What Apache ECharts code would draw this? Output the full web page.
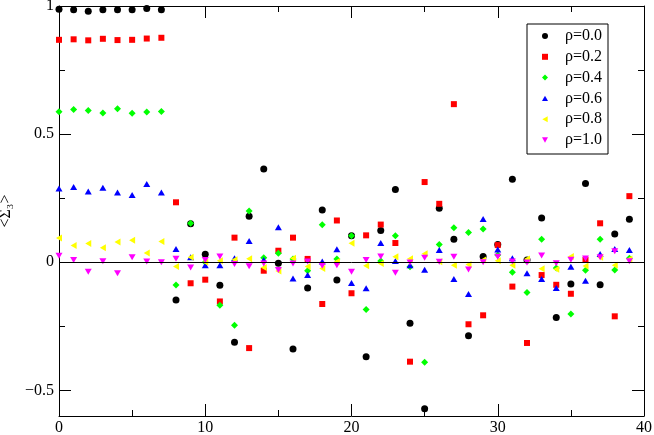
<!DOCTYPE html>
<html><head><meta charset="utf-8">
<script src="https://cdn.jsdelivr.net/npm/echarts@6/dist/echarts.min.js"></script>
<style>html,body{margin:0;padding:0;background:#fff}#c{width:654px;height:435px}</style>
</head><body><div id="c"></div><script>
const FONT = 'Liberation Serif';
const seriesNames = ['ρ=0.0','ρ=0.2','ρ=0.4','ρ=0.6','ρ=0.8','ρ=1.0'];
const rho00 = [0.987,0.985,0.98,0.985,0.985,0.985,0.99,0.985,-0.147,0.15,0.031,-0.09,-0.312,0.18,0.364,-0.004,-0.339,-0.1,0.204,-0.069,0.103,-0.369,0.124,0.284,-0.238,-0.572,0.211,0.09,-0.287,0.022,0.069,0.324,0.009,0.173,-0.216,-0.085,0.307,-0.088,0.11,0.168];
const rho02 = [0.868,0.87,0.866,0.872,0.867,0.868,0.873,0.876,0.234,-0.082,-0.068,-0.153,0.096,-0.335,-0.033,0.045,0.096,0.013,-0.163,0.163,-0.121,0.105,0.147,0.075,-0.388,0.313,0.228,0.617,-0.242,-0.207,0.067,-0.095,-0.315,-0.05,-0.088,-0.123,0.009,0.152,-0.211,0.258];
const rho04 = [0.587,0.596,0.592,0.582,0.599,0.581,0.586,0.588,-0.089,0.152,0.0,-0.168,-0.246,0.2,0.018,0.035,0.013,-0.033,0.146,0.013,0.103,-0.184,0.005,0.103,-0.018,-0.39,0.069,0.135,0.116,0.13,0.028,-0.039,-0.118,0.09,-0.022,-0.202,-0.031,0.09,-0.03,0.016];
const rho06 = [0.288,0.294,0.276,0.291,0.272,0.262,0.305,0.272,0.052,0.02,-0.012,-0.012,0.016,0.083,0.009,0.137,-0.063,-0.05,0.003,0.051,-0.081,-0.101,0.075,0.005,-0.012,-0.029,0.048,-0.065,-0.124,0.169,0.05,0.016,-0.043,-0.065,-0.1,-0.018,-0.072,0.032,0.052,0.048];
const rho08 = [0.095,0.065,0.073,0.057,0.079,0.086,0.036,0.081,-0.017,0.02,0.0,0.006,0.01,0.014,-0.02,-0.034,0.016,-0.017,-0.024,0.003,0.074,-0.014,-0.005,0.021,0.014,0.033,0.002,-0.012,-0.009,0.009,0.006,-0.012,0.013,-0.025,-0.027,0.022,-0.015,0.02,-0.012,0.013];
const rho10 = [0.025,0.009,-0.037,0.004,-0.043,0.02,0.003,0.0,0.014,-0.02,0.009,0.022,-0.007,-0.016,-0.005,-0.03,-0.005,0.003,-0.014,-0.012,-0.037,0.009,0.022,-0.041,-0.001,0.018,0.002,0.021,-0.028,0.0,0.021,0.003,-0.001,0.026,-0.004,0.01,0.015,0.02,0.043,0.004];
const yMajorTicks = [-0.5, 0, 0.5, 1];
const yMinorTicks = [-0.25, 0.25, 0.75];

const allValues = [rho00, rho02, rho04, rho06, rho08, rho10];
const colors = ['#000000','#ff0000','#00ff00','#0000ff','#ffff00','#ff00ff'];
const symbols = ['circle','rect','diamond',
  'path://M5,0 L10,9 L0,9 Z',
  'path://M0,5 L9,0 L9,10 Z',
  'path://M0,0 L10,0 L5,9 Z'];
const sizes = [7,6,7,[7,6],[6,7],[7,6]];

const fmtY = v => v === 0 ? '0' : (v < 0 ? '\u2212' + Math.abs(v) : String(v));
const axisLineStyle = {color:'#000', width:1};

function xAx(pos, labels){
  return {type:'value', position:pos, min:0, max:40, interval:10,
    axisLine:{show:true, onZero:false, lineStyle:axisLineStyle},
    axisTick:{show:true, inside:true, length:12, lineStyle:{color:'#000'}},
    minorTick:{show:true, splitNumber:2, length:6, lineStyle:{color:'#000'}},
    splitLine:{show:false}, minorSplitLine:{show:false},
    axisLabel:{show:labels, margin:4, fontFamily:FONT, fontSize:16, color:'#000'}};
}
function yAx(pos, major, labels, name){
  const a = {type:'value', position:pos, min:-0.6, max:1,
    axisLine:{show:major, onZero:false, lineStyle:axisLineStyle},
    axisTick:{show:true, inside:true, length: major?12:6, customValues: major?yMajorTicks:yMinorTicks, lineStyle:{color:'#000'}},
    splitLine:{show:false},
    axisLabel:{show:labels, customValues: yMajorTicks, formatter: fmtY, margin:5, fontFamily:FONT, fontSize:16, color:'#000'}};
  if (name) {
    a.name = name; a.nameLocation = 'middle'; a.nameGap = 42; a.nameRotate = 90;
    a.nameTextStyle = {fontFamily:FONT, fontSize:16, color:'#000'};
  }
  return a;
}

const series = allValues.map((vals, k) => {
  const s = {
    name: seriesNames[k], type:'scatter', xAxisIndex:0, yAxisIndex:0,
    data: vals.map((v, i) => [i, v]),
    symbol: symbols[k], symbolSize: sizes[k],
    itemStyle:{color: colors[k], opacity:1},
    emphasis:{disabled:true}, animation:false
  };
  if (k === 0) {
    s.markLine = {silent:true, symbol:['none','none'], label:{show:false},
      lineStyle:{color:'#000', width:1, type:'solid'}, data:[{yAxis:0}], animation:false};
  }
  return s;
});

const chart = echarts.init(document.getElementById('c'), null, {renderer:'canvas'});
chart.setOption({
  animation:false,
  backgroundColor:'#fff',
  textStyle:{fontFamily:FONT},
  grid:{left:59, right:10, top:6, bottom:19, containLabel:false, outerBoundsMode:'none'},
  xAxis:[xAx('bottom', true), xAx('top', false)],
  yAxis:[yAx('left', true, true, '<Σ\u2083>'), yAx('left', false, false), yAx('right', true, false), yAx('right', false, false)],
  legend:{
    orient:'vertical', left:527, top:24,
    data: seriesNames,
    itemWidth:6, itemHeight:6, itemGap:4.8,
    padding:[4, 6, 6, 15],
    borderColor:'#000', borderWidth:1, borderRadius:0,
    backgroundColor:'#fff',
    textStyle:{fontFamily:FONT, fontSize:16, color:'#000', lineHeight:16, padding:[0,0,0,12]},
    selectedMode:false
  },
  series: series
});
</script></body></html>
